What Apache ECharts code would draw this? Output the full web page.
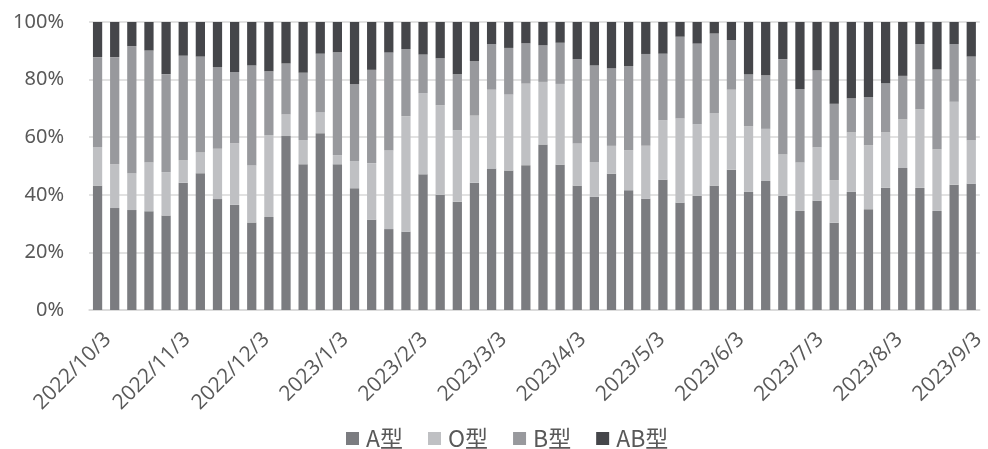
<!DOCTYPE html>
<html>
<head>
<meta charset="utf-8">
<script src="https://cdn.jsdelivr.net/npm/echarts@6/dist/echarts.min.js"></script>
<style>
  html, body { margin: 0; padding: 0; background: #fff; }
  #chart { width: 988px; height: 449px; }
</style>
</head>
<body>
<div id="chart"></div>
<script>
// Weekly share of blood types (%), stacked to 100%
const weeks = [
  '2022/10/3','2022/10/10','2022/10/17','2022/10/24','2022/10/31',
  '2022/11/7','2022/11/14','2022/11/21','2022/11/28',
  '2022/12/5','2022/12/12','2022/12/19','2022/12/26',
  '2023/1/2','2023/1/9','2023/1/16','2023/1/23','2023/1/30',
  '2023/2/6','2023/2/13','2023/2/20','2023/2/27',
  '2023/3/6','2023/3/13','2023/3/20','2023/3/27',
  '2023/4/3','2023/4/10','2023/4/17','2023/4/24',
  '2023/5/1','2023/5/8','2023/5/15','2023/5/22','2023/5/29',
  '2023/6/5','2023/6/12','2023/6/19','2023/6/26',
  '2023/7/3','2023/7/10','2023/7/17','2023/7/24','2023/7/31',
  '2023/8/7','2023/8/14','2023/8/21','2023/8/28',
  '2023/9/4','2023/9/11','2023/9/18','2023/9/25'
];

const typeA = [
  43.1, 35.4, 34.7, 34.3, 32.8, 44.2, 47.5, 38.5, 36.5, 30.4, 32.3, 60.4, 50.6,
  61.4, 50.6, 42.3, 31.3, 28.1, 27.2, 47.1, 40.0, 37.6, 44.2, 49.1, 48.4, 50.3,
  57.5, 50.4, 43.1, 39.3, 47.3, 41.6, 38.6, 45.2, 37.2, 39.6, 43.1, 48.7, 41.0,
  44.8, 39.6, 34.4, 37.9, 30.3, 41.0, 35.0, 42.4, 49.3, 42.4, 34.4, 43.5, 43.8
];
const typeO = [
  13.5, 15.2, 12.8, 16.9, 15.1, 7.8, 7.3, 17.5, 21.4, 19.9, 28.4, 7.5, 8.4,
  7.2, 3.2, 9.4, 19.7, 27.4, 40.1, 28.2, 31.1, 24.8, 23.3, 27.4, 26.4, 28.3,
  21.7, 28.1, 14.7, 12.1, 9.7, 13.9, 18.4, 20.7, 29.3, 24.9, 25.3, 27.8, 22.8,
  18.1, 14.5, 16.8, 18.6, 14.8, 20.7, 22.2, 19.3, 16.9, 27.3, 21.4, 28.8, 15.1
];
const typeB = [
  31.2, 37.2, 44.1, 38.9, 34.0, 36.3, 33.2, 28.3, 24.7, 34.6, 22.2, 17.7, 23.4,
  20.4, 35.7, 26.7, 32.4, 33.9, 23.3, 13.4, 16.3, 19.5, 18.9, 15.8, 16.2, 14.0,
  12.7, 14.3, 29.3, 33.5, 26.9, 29.2, 31.9, 23.1, 28.4, 28.0, 27.6, 17.2, 18.0,
  18.6, 33.0, 25.5, 26.7, 26.5, 11.8, 16.7, 17.0, 15.1, 22.6, 27.7, 20.0, 29.1
];
const typeAB = [
  12.2, 12.2, 8.4, 9.9, 18.1, 11.7, 12.0, 15.7, 17.4, 15.1, 17.1, 14.4, 17.6,
  11.0, 10.5, 21.6, 16.6, 10.6, 9.4, 11.3, 12.6, 18.1, 13.6, 7.7, 9.0, 7.4,
  8.1, 7.2, 12.9, 15.1, 16.1, 15.3, 11.1, 11.0, 5.1, 7.5, 4.0, 6.3, 18.2,
  18.5, 12.9, 23.3, 16.8, 28.4, 26.5, 26.1, 21.3, 18.7, 7.7, 16.5, 7.7, 12.0
];

const seriesNames = ['A型', 'O型', 'B型', 'AB型'];
const seriesValues = [typeA, typeO, typeB, typeAB];
const seriesColors = ['#7b7c80', '#bfc0c3', '#98999d', '#45464a'];

// Monthly tick labels along the bottom
const monthLabels = [
  '2022/10/3','2022/11/3','2022/12/3','2023/1/3','2023/2/3','2023/3/3',
  '2023/4/3','2023/5/3','2023/6/3','2023/7/3','2023/8/3','2023/9/3'
];
const yTicks = [0, 20, 40, 60, 80, 100];

// spread month labels evenly over the week index scale
const labelStart = 0.6;
const labelStep = 4.62;
const labelSlots = monthLabels.map((_, k) => +(labelStart + k * labelStep).toFixed(3));
const slotText = {};
labelSlots.forEach((p, k) => { slotText[p] = monthLabels[k]; });

const chart = echarts.init(document.getElementById('chart'), null, { renderer: 'canvas' });

const textColor = '#595959';
const gridColor = '#d9d9d9';

chart.setOption({
  animation: false,
  backgroundColor: '#ffffff',
  textStyle: { fontFamily: '"Noto Sans CJK JP", "Noto Sans", sans-serif' },
  grid: { left: 89, right: -3, top: 22, bottom: 139, containLabel: false },
  legend: {
    bottom: -1,
    left: 346,
    padding: 0,
    itemWidth: 13,
    itemHeight: 13,
    itemGap: 25,
    icon: 'rect',
    textStyle: { color: textColor, fontSize: 23, padding: [0, 0, 0, 2] },
    data: seriesNames
  },
  xAxis: [
    {
      type: 'category',
      data: weeks,
      axisLine: { show: true, lineStyle: { color: gridColor, width: 1.5 } },
      axisTick: { show: false },
      axisLabel: { show: false },
      splitLine: { show: false }
    },
    {
      type: 'value',
      min: -0.5,
      max: weeks.length - 0.5,
      position: 'bottom',
      axisLine: { show: false },
      axisTick: { show: false },
      splitLine: { show: false },
      axisLabel: {
        show: true,
        customValues: labelSlots,
        rotate: 45,
        margin: 26,
        color: textColor,
        fontSize: 21,
        fontFamily: '"Open Sans", sans-serif',
        formatter: v => slotText[+v.toFixed(3)] || ''
      }
    }
  ],
  yAxis: {
    type: 'value',
    min: yTicks[0],
    max: yTicks[yTicks.length - 1],
    interval: 20,
    axisLine: { show: false },
    axisTick: { show: false },
    splitLine: { lineStyle: { color: gridColor, width: 1.5 } },
    axisLabel: {
      margin: 25,
      color: textColor,
      fontSize: 20,
      fontFamily: '"Noto Sans", sans-serif',
      formatter: '{value}%'
    }
  },
  series: seriesNames.map((name, i) => ({
    name,
    type: 'bar',
    stack: 'share',
    xAxisIndex: 0,
    barWidth: '54%',
    itemStyle: { color: seriesColors[i] },
    data: seriesValues[i]
  }))
});
</script>
</body>
</html>
